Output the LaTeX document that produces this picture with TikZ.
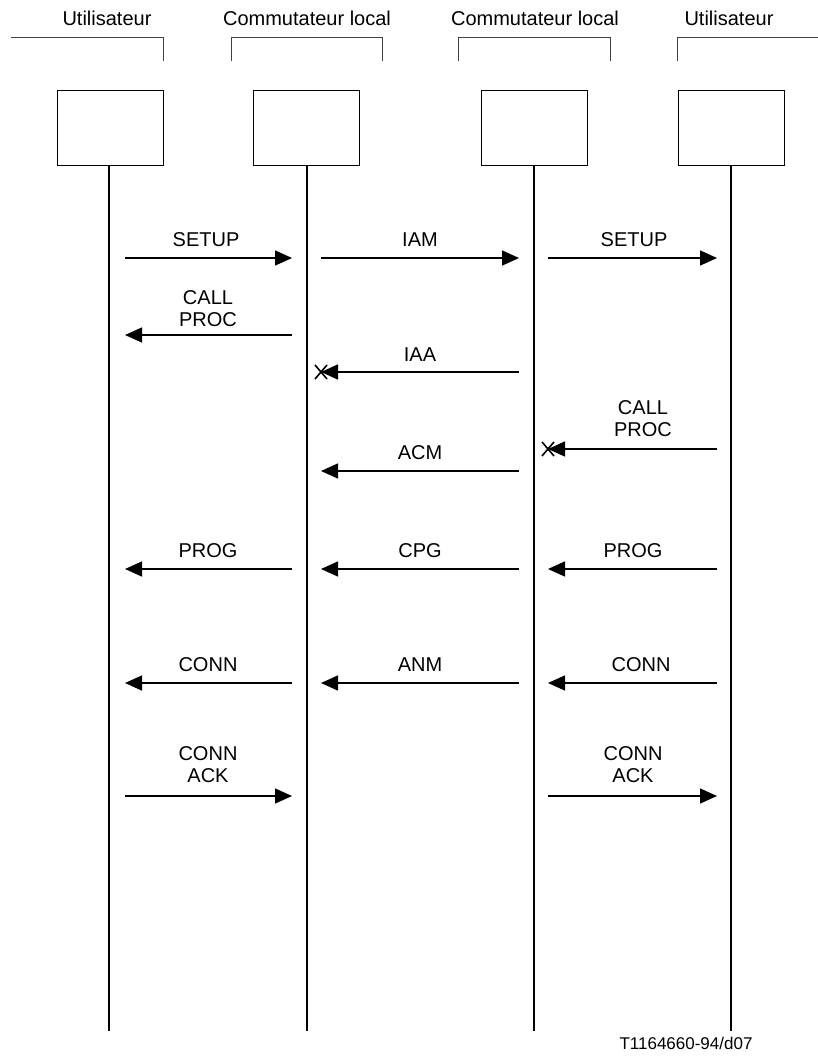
\documentclass[tikz,border=0pt]{standalone}
\usepackage{fontspec}
\setmainfont{Liberation Sans}
\usetikzlibrary{arrows.meta,calc}
\begin{document}
\begin{tikzpicture}[x=1pt,y=-1pt,
  lbl/.style={font=\fontsize{20}{22}\selectfont, align=center, inner sep=0pt},
  ent/.style={draw, line width=1pt, minimum width=106pt, minimum height=75pt, inner sep=0pt},
  life/.style={line width=1.6pt},
  brk/.style={line width=1pt, draw=black!75},
  msg/.style={line width=1.5pt, -{Triangle[length=17pt,width=15pt]}},
  xmark/.style={line width=1.6pt}
]
\useasboundingbox (0,0) rectangle (818,1056);

% header labels
\node[lbl] (h1) at (107,18) {Utilisateur};
\node[lbl] (h2) at (307,18) {Commutateur local};
\node[lbl] (h3) at (535,18) {Commutateur local};
\node[lbl] (h4) at (729,18) {Utilisateur};

% brackets
\draw[brk] (11,38) -- (163,38) -- (163,61);
\draw[brk] (231,61) -- (231,38) -- (382,38) -- (382,61);
\draw[brk] (458,61) -- (458,38) -- (610,38) -- (610,61);
\draw[brk] (677,61) -- (677,38) -- (818,38);

% entity boxes
\node[ent] (b1) at (110,128.5) {};
\node[ent] (b2) at (306.5,128.5) {};
\node[ent] (b3) at (534.5,128.5) {};
\node[ent] (b4) at (731,128.5) {};

% lifeline ends
\coordinate (e1) at (109,1031);
\coordinate (e2) at (307,1031);
\coordinate (e3) at (534,1031);
\coordinate (e4) at (731,1031);
\draw[life] (b1.south) ++(-1,0) -- (e1);
\draw[life] (b2.south) ++(0.5,0) -- (e2);
\draw[life] (b3.south) ++(-0.5,0) -- (e3);
\draw[life] (b4.south) -- (e4);

% column end points
\def\aL{125} \def\aR{292}
\def\bL{321} \def\bR{519}
\def\cL{548} \def\cR{717}

% SETUP / IAM / SETUP
\coordinate (s1a) at (\aL,258); \coordinate (s1b) at (\aR,258);
\coordinate (s2a) at (\bL,258); \coordinate (s2b) at (\bR,258);
\coordinate (s3a) at (\cL,258); \coordinate (s3b) at (\cR,258);
\draw[msg] (s1a) -- (s1b);
\draw[msg] (s2a) -- (s2b);
\draw[msg] (s3a) -- (s3b);
\node[lbl] (lsetup1) at (206,240) {SETUP};
\node[lbl] (liam) at (420,240) {IAM};
\node[lbl] (lsetup2) at (634,240) {SETUP};

% CALL PROC left
\coordinate (cp1a) at (\aR,335); \coordinate (cp1b) at (\aL,335);
\draw[msg] (cp1a) -- (cp1b);
\node[lbl] (lcp1) at (208,309) {CALL\\PROC};

% IAA with X
\coordinate (iaa1) at (\bR,372); \coordinate (iaa2) at (\bL,372);
\draw[msg] (iaa1) -- (iaa2);
\draw[xmark] ($(iaa2)+(-6,-7)$) -- ($(iaa2)+(6,7)$) ($(iaa2)+(-6,7)$) -- ($(iaa2)+(6,-7)$);
\node[lbl] (liaa) at (420,355) {IAA};

% CALL PROC right with X
\coordinate (cp2a) at (\cR,449); \coordinate (cp2b) at (\cL,449);
\draw[msg] (cp2a) -- (cp2b);
\draw[xmark] ($(cp2b)+(-6,-7)$) -- ($(cp2b)+(6,7)$) ($(cp2b)+(-6,7)$) -- ($(cp2b)+(6,-7)$);
\node[lbl] (lcp2) at (643,419) {CALL\\PROC};

% ACM
\coordinate (acm1) at (\bR,471); \coordinate (acm2) at (\bL,471);
\draw[msg] (acm1) -- (acm2);
\node[lbl] (lacm) at (420,453) {ACM};

% PROG / CPG / PROG
\coordinate (p1a) at (\aR,569); \coordinate (p1b) at (\aL,569);
\coordinate (p2a) at (\bR,569); \coordinate (p2b) at (\bL,569);
\coordinate (p3a) at (\cR,569); \coordinate (p3b) at (\cL,569);
\draw[msg] (p1a) -- (p1b);
\draw[msg] (p2a) -- (p2b);
\draw[msg] (p3a) -- (p3b);
\node[lbl] (lprog1) at (208,551) {PROG};
\node[lbl] (lcpg) at (420,551) {CPG};
\node[lbl] (lprog2) at (633,551) {PROG};

% CONN / ANM / CONN
\coordinate (c1a) at (\aR,683); \coordinate (c1b) at (\aL,683);
\coordinate (c2a) at (\bR,683); \coordinate (c2b) at (\bL,683);
\coordinate (c3a) at (\cR,683); \coordinate (c3b) at (\cL,683);
\draw[msg] (c1a) -- (c1b);
\draw[msg] (c2a) -- (c2b);
\draw[msg] (c3a) -- (c3b);
\node[lbl] (lconn1) at (208,665) {CONN};
\node[lbl] (lanm) at (420,665) {ANM};
\node[lbl] (lconn2) at (641,665) {CONN};

% CONN ACK
\coordinate (ca1a) at (\aL,796); \coordinate (ca1b) at (\aR,796);
\coordinate (ca2a) at (\cL,796); \coordinate (ca2b) at (\cR,796);
\draw[msg] (ca1a) -- (ca1b);
\draw[msg] (ca2a) -- (ca2b);
\node[lbl] (lca1) at (208,765) {CONN\\ACK};
\node[lbl] (lca2) at (633,765) {CONN\\ACK};

% footer
\node[lbl, font=\fontsize{17}{19}\selectfont] (foot) at (686,1043) {T1164660-94/d07};
\end{tikzpicture}
\end{document}
